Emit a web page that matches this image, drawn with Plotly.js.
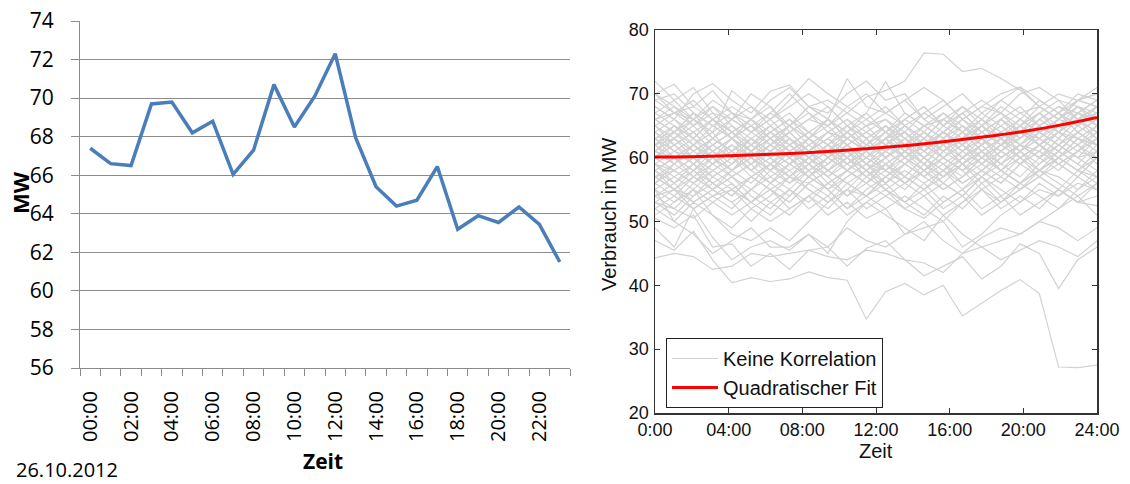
<!DOCTYPE html>
<html>
<head>
<meta charset="utf-8">
<script src="https://cdn.plot.ly/plotly-3.0.1.min.js"></script>
<style>html,body{margin:0;padding:0;background:#fff;}#chart{width:1130px;height:484px;}</style>
</head>
<body>
<div id="chart"></div>
<script>
// ---------- Left chart: 26.10.2012 hourly load ----------
const hourLabels = ["00:00","01:00","02:00","03:00","04:00","05:00","06:00","07:00","08:00","09:00","10:00","11:00",
                    "12:00","13:00","14:00","15:00","16:00","17:00","18:00","19:00","20:00","21:00","22:00","23:00"];
const loadMW = [67.4,66.6,66.5,69.7,69.8,68.2,68.8,66.05,67.3,70.7,68.5,70.1,
                72.3,67.95,65.4,64.4,64.7,66.45,63.2,63.9,63.55,64.35,63.45,61.5];
const leftYTicks = [56,58,60,62,64,66,68,70,72,74];

// ---------- Right chart: daily profiles (24 samples spanning 0..24 h) ----------
const profiles = [
 [47,45.5,48.5,44,40.4,41.2,40.6,41,42.1,41.2,40.8,34.7,39.0,40.3,38.5,40.0,35.2,37.2,39.2,40.9,38.7,27.2,27.1,27.5],
 [44.3,45,44.5,42.5,43,45,44.5,45,45.5,44.5,44,45.5,45,44,43.5,42,45,46,44,45.5,47,46,44.5,47],
 [50.5,49,51,46,46.5,43,45,42.5,45.5,46,43,45.8,47,44,41.5,43,44.5,41,43,46.5,45,39.5,44,46],
 [49,46,52,47.5,44,46,47,45.5,48,46,49,47,46,48,50,47,45,47.5,49,48,50,49,47,49],
 [53,52,55,51,48,47,49,47,50,53,55,54,52,48,49,50,46,48,51,53,55,54,56,55],
 [55,50,48,45,47,49,46,46,48,45,50,53,51,49,47,51,48,46,47,48,50,52,54,51],
 [72,69,71,67,66,70,68,65,68,67,70,72,69,70,66,68,70,67,69,71,68,66,69,70],
 [70,71.5,68,70.5,67,66,69,71,68,66,72.4,68,67,69,71,69,66,68,67,70,71,69,68,67],
 [66,64,67,65,63,66,68,64,66,65,67,69.5,70.5,72,76.4,76.2,73.5,74,72.4,70.6,68,66,69,68],
 [62,64,61,63,66,64,62,65,63,66,64,67,71.9,67,65,66,68,65,63,66,64,65,67,66],
 [68,66,70,71.6,69,67,70.4,71.4,68,69,67,65,66,64,67,65,68,66,69,67,68,70,69,71],
 [65,67,66,64,70.5,68,66,69,72.4,70,68,66,64,67,65,63,66,68,70,71.1,69,67,70,69],
 [60,62,64,61,59,62,60,63,61,64,62,60,63,65,62,64,66,63,65,62,64,66,65,67],
 [58,60,57,59,61,58,60,62,59,57,60,62,61,59,62,60,63,65,62,64,63,65,66,64],
 [63,61,60,62,64,61,63,60,62,64,63,65,62,60,63,61,64,62,66,64,67,65,68,66],
 [57,55,58,56,54,57,59,56,58,55,57,59,58,60,57,59,56,58,61,59,62,60,63,61],
 [54,56,53,55,57,54,52,55,53,56,54,57,55,53,56,58,55,57,54,56,58,57,55,58],
 [66,64,67,63,65,62,64,66,63,61,64,62,65,63,61,64,62,65,67,64,66,68,67,69],
 [61,59,62,64,60,58,61,59,57,60,62,59,61,63,60,58,61,63,60,62,65,63,66,64],
 [56,58,60,57,59,62,60,57,59,61,58,56,59,61,63,60,62,59,61,64,62,65,63,62],
 [64,66,63,61,63,65,62,60,63,61,59,62,64,61,63,66,64,61,63,65,63,61,64,66],
 [59,57,55,58,56,53,56,58,55,53,56,54,57,55,58,56,54,57,59,57,60,58,61,60],
 [67,65,63,66,64,62,65,63,60,62,65,63,60,62,64,67,65,62,64,66,69,67,65,68],
 [62,63,65,62,60,63,65,62,64,66,63,61,63,60,62,65,67,64,62,65,63,66,68,65],
 [53,55,52,54,56,53,51,54,57,55,52,54,56,53,55,52,54,57,55,53,56,54,57,55],
 [58,56,59,61,58,60,57,55,58,60,62,59,57,60,58,61,63,60,58,61,59,62,60,63],
 [69,67,65,68,66,64,67,65,68,66,63,65,67,69,66,64,67,69,67,65,68,66,69,70],
 [60,58,56,59,61,58,56,59,57,60,58,56,59,57,60,62,59,57,60,62,60,63,61,64],
 [55,53,56,54,52,55,53,51,54,52,55,58,55,53,51,54,52,55,53,56,54,52,55,57],
 [64,62,60,63,61,64,66,63,61,59,62,64,62,60,62,64,62,65,63,61,64,62,65,63],
 [57,59,62,60,63,60,58,61,63,60,58,61,63,60,58,61,59,62,64,62,60,63,66,63],
 [62,60,58,60,57,59,62,60,58,55,58,60,58,61,59,56,59,61,58,60,62,60,58,61],
 [52,54,57,55,53,50,53,55,52,54,51,53,55,52,50.5,53,55,52,54,51,53,55,53,56],
 [66,68,65,67,64,66,63,65,67,64,66,63,65,62,64,61,63,66,64,62,65,67,64,66],
 [59,61,63,60,62,60,62,64,61,63,61,58,60,62,60,57,60,62,64,61,63,61,64,62],
 [63,65,62,60,58,61,59,57,60,58,61,59,62,64,61,63,60,62,59,61,58,60,62,60],
 [56,54,52,54,55,52,54,57,55,53,55,52,54,56,54,51,53,56,53,55,57,55,53,54],
 [68,66,64,61,63,60,62,60,57,59,62,60,58,61,58,60,62,59,57,60,58,61,59,57],
 [61,63,60,58,60,63,61,59,62,60,63,61,64,62,59,62,64,61,63,65,62,64,62,65],
 [54,52,50.5,53,51,53,55,53,56,58,56,54,57,59,57,55,57,60,58,56,59,61,59,62],
 [58,60,62,59,57,55,58,60,57,55,52,55,57,59,57,60,58,55,57,55,58,56,54,56],
 [65,63,66,68,65,63,61,64,66,68,65,63,60,63,61,64,62,60,62,65,67,64,62,64],
 [60,62,59,62,64,66,63,61,63,65,62,64,66,63,65,67,64,66,63,65,67,69,66,68],
 [57,55,57,55,58,56,59,61,58,60,63,61,59,56,58,55,57,59,62,60,57,59,57,60],
 [52,50,53,51,49,52,50,52,54,51,53,50.5,52,54,52,50,53,55,52,54,52,55,53,52.5],
 [70,68,66,69,67,65,63,65,62,64,66,64,62,65,63,66,64,67,65,63,66,64,67,65],
 [63,64,62,65,63,60,62,64,61,63,65,62,60,62,65,63,61,64,66,63,65,67,64,66],
 [59,56,58,55,57,59,56,54,57,59,61,58,60,57,55,58,60,62,59,61,63,61,64,62],
 [67,69,66,64,66,68,65,67,64,62,64,66,68,65,67,69,66,64,66,68,65,67,69,68],
 [55,57,59,56,58,61,58,56,59,57,54,56,58,56,59,57,60,58,56,59,61,59,57,60],
 [61,60,62,60,58,60,58,61,59,62,60,58,56,59,61,59,57,60,62,64,62,60,63,62],
 [65,62,64,66,63,61,59,62,64,62,59,61,63,66,64,62,65,63,61,63,66,68,66,67],
 [57,58,56,58,60,57,55,57,56,58,60,57,59,57,55,57,59,61,58,56,58,60,62,59],
 [69,70,67,65,67,64,66,68,70,68,65,67,64,66,68,65,63,65,68,66,64,66,68,66],
 [53,51,54,56,54,57,55,53,56,54,57,59,56,58,56,53,55,58,56,59,57,60,58,57],
 [60,63,61,63,61,59,61,63,60,62,60,63,65,62,60,63,65,63,60,62,61,64,63,65],
 [62,59,61,59,62,60,63,61,59,61,63,61,63,64,62,60,58,60,63,61,64,62,60,61],
 [56,59,57,60,62,59,61,59,61,63,60,58,61,59,62,64,61,59,62,60,62,64,67,65],
 [64,61,59,57,59,61,64,62,60,58,60,57,60,62,59,62,60,63,61,59,61,59,61,63],
 [58,55,53,55,53,55,57,59,61,58,56,58,55,57,60,58,56,58,60,62,60,62,60,58],
 [66,67,69,66,68,66,64,62,64,62,64,61,63,60,62,64,62,64,62,63,66,64,66,68],
 [51,53,55,53,55,53,55,52,54,56,58,56,54,52,54,56,54,51,53,55,57,55,58,60],
 [62,65,63,66,64,61,64,66,64,62,59,61,63,66,68,65,67,64,66,64,62,64,66,64],
 [59,58,60,62,60,62,64,61,59,56,58,60,62,64,61,59,61,63,65,67,65,67,65,67],
 [70,67,68,66,63,65,67,70,67,65,68,70,67,65,63,61,63,65,67,64,62,64,67,69],
 [54,55,54,57,55,57,59,57,60,62,59,57,59,61,59,57,59,56,58,56,58,60,58,56],
 [61,64,66,63,61,63,60,58,60,57,59,61,58,56,58,60,58,61,63,60,62,59,61,63],
 [63,60,58,61,63,61,63,65,63,66,64,61,63,61,64,62,59,61,59,62,60,62,64,62]
];
const fitHours = [0,2,4,6,8,10,12,14,16,18,20,22,24];
const fitMW = [60.1,60.15,60.3,60.5,60.75,61.1,61.5,62.0,62.6,63.3,64.1,65.1,66.3];
const rightXTicks = [0,4,8,12,16,20,24];
const rightXLabels = ["0:00","04:00","08:00","12:00","16:00","20:00","24:00"];
const rightYTicks = [20,30,40,50,60,70,80];

// ---------- build traces ----------
const traces = [];
traces.push({
  x: hourLabels.map((_, i) => i), y: loadMW, xaxis: 'x', yaxis: 'y',
  type: 'scatter', mode: 'lines', showlegend: false,
  line: {color: '#4a7ebb', width: 3.5}, hoverinfo: 'skip'
});
profiles.forEach((p, k) => {
  traces.push({
    x: p.map((_, i) => i * 24 / (p.length - 1)), y: p, xaxis: 'x2', yaxis: 'y2',
    type: 'scatter', mode: 'lines', name: 'Keine Korrelation',
    showlegend: k === 0, legendgroup: 'g',
    line: {color: '#d2d2d2', width: 1.2}, hoverinfo: 'skip'
  });
});
traces.push({
  x: fitHours, y: fitMW, xaxis: 'x2', yaxis: 'y2', type: 'scatter', mode: 'lines',
  name: 'Quadratischer Fit', line: {color: '#ff0000', width: 3, shape: 'spline'}, hoverinfo: 'skip'
});

const W = 1130, H = 484;
const px = v => v / W, py = v => 1 - v / H;
const leftFont = 'Open Sans, Noto Sans, sans-serif';
const rightFont = 'Liberation Sans, Arial, sans-serif';
const ann = (text, x, y, font, extra) => Object.assign({
  text, x: px(x), y: py(y), xref: 'paper', yref: 'paper', showarrow: false,
  xanchor: 'center', yanchor: 'middle', font
}, extra || {});

const layout = {
  width: W, height: H, margin: {l: 0, r: 0, t: 0, b: 0},
  paper_bgcolor: '#fff', plot_bgcolor: '#fff', showlegend: true,
  xaxis: {
    domain: [px(80), px(570)], range: [-0.5, 23.5], anchor: 'y',
    tickvals: hourLabels.map((_, i) => i).filter(i => i % 2 === 0),
    ticktext: hourLabels.filter((_, i) => i % 2 === 0),
    tickangle: -90, ticks: '', showgrid: false, zeroline: false,
    showline: true, linecolor: '#8c8c8c', linewidth: 1,
    minor: {tick0: -0.5, dtick: 1, ticks: 'outside', ticklen: 7, tickcolor: '#8c8c8c', showgrid: false},
    ticklabelstandoff: 14,
    tickfont: {family: leftFont, size: 20, color: '#000'}
  },
  yaxis: {
    domain: [py(368), py(21)], range: [56, 74], anchor: 'x',
    tickvals: leftYTicks, ticks: 'outside', ticklen: 8, tickcolor: '#8c8c8c',
    showgrid: true, gridcolor: '#8c8c8c', gridwidth: 1, zeroline: false,
    showline: true, linecolor: '#8c8c8c', linewidth: 1,
    ticklabelstandoff: 13,
    tickfont: {family: leftFont, size: 21, color: '#000'}
  },
  xaxis2: {
    domain: [px(655), px(1097)], range: [0, 24], anchor: 'y2',
    tickvals: rightXTicks, ticktext: rightXLabels,
    ticks: 'inside', ticklen: 5, tickcolor: '#333', showgrid: false, zeroline: false,
    showline: true, linecolor: '#333', linewidth: 1.5, mirror: 'ticks',
    tickfont: {family: rightFont, size: 18, color: '#111'}
  },
  yaxis2: {
    domain: [py(413), py(30)], range: [20, 80], anchor: 'x2',
    tickvals: rightYTicks, ticks: 'inside', ticklen: 5, tickcolor: '#333',
    showgrid: false, zeroline: false,
    showline: true, linecolor: '#333', linewidth: 1.5, mirror: 'ticks',
    ticklabelstandoff: 1,
    tickfont: {family: rightFont, size: 18, color: '#111'}
  },
  legend: {
    x: px(666), y: py(338), xanchor: 'left', yanchor: 'top',
    bgcolor: '#fff', bordercolor: '#222', borderwidth: 1, itemwidth: 46,
    font: {family: rightFont, size: 20, color: '#111'}, tracegroupgap: 0
  },
  annotations: [
    ann('<b>MW</b>', 20, 193, {family: leftFont, size: 22, color: '#000'}, {textangle: -90}),
    ann('<b>Zeit</b>', 323, 461, {family: leftFont, size: 21, color: '#000'}),
    ann('26.10.2012', 14, 469, {family: leftFont, size: 20, color: '#000'}, {xanchor: 'left'}),
    ann('Verbrauch in MW', 609, 214, {family: rightFont, size: 20, color: '#111'}, {textangle: -90}),
    ann('Zeit', 876, 451, {family: rightFont, size: 20, color: '#111'})
  ]
};

Plotly.newPlot('chart', traces, layout, {staticPlot: true, displayModeBar: false});
</script>
</body>
</html>
